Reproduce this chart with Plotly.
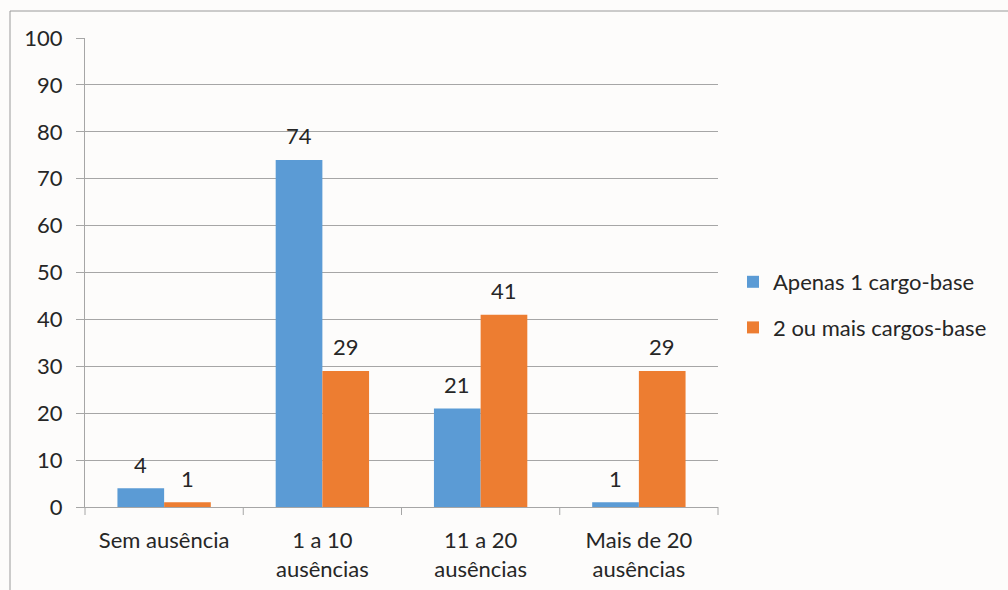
import plotly.graph_objects as go

categories = ["Sem ausência", "1 a 10 ausências", "11 a 20 ausências", "Mais de 20 ausências"]
tick_labels = ["Sem ausência", "1 a 10<br>ausências", "11 a 20<br>ausências", "Mais de 20<br>ausências"]
series_names = ["Apenas 1 cargo-base", "2 ou mais cargos-base"]
apenas_1 = [4, 74, 21, 1]
dois_ou_mais = [1, 29, 41, 29]
colors = ["#5B9BD5", "#ED7D31"]

FONT = "Lato, 'Open Sans', sans-serif"
FS = 22
TXT = "#262626"
L, R, T, B = 85, 290, 38, 83
W, H = 1008, 590
pw = W - L - R
ph = H - T - B

fig = go.Figure()
for i, (name, vals) in enumerate(zip(series_names, [apenas_1, dois_ou_mais])):
    fig.add_trace(go.Bar(
        x=categories, y=vals, name=name,
        marker=dict(color=colors[i], line=dict(width=0)),
        legendgroup=name,
    ))

# data labels
bar_w = pw / 4 * (1 - 0.41) / 2
for i, vals in enumerate([apenas_1, dois_ou_mais]):
    shift = (-0.5 if i == 0 else 0.5) * bar_w
    for c, v in zip(categories, vals):
        fig.add_annotation(x=c, y=v, text=str(v), showarrow=False,
                           xshift=shift, yshift=24, yanchor="middle",
                           font=dict(family=FONT, size=FS, color=TXT))

# chart border
fig.add_shape(type="rect", xref="paper", yref="paper",
              x0=(10 - L) / pw, x1=(1020 - L) / pw,
              y0=-(620 - (H - B)) / ph, y1=(H - B - 11) / ph,
              line=dict(color="#9a9a9a", width=1), fillcolor="rgba(0,0,0,0)", layer="below")

fig.update_layout(
    width=W, height=H,
    margin=dict(l=L, r=R, t=T, b=B, autoexpand=False),
    paper_bgcolor="#fdfcfb", plot_bgcolor="#fdfcfb",
    bargap=0.41, bargroupgap=0,
    barmode="group",
    font=dict(family=FONT, size=FS, color=TXT),
    showlegend=True,
    legend=dict(x=(733 - L) / pw, y=(507 - 305) / ph, xanchor="left", yanchor="middle",
                font=dict(family=FONT, size=FS, color=TXT),
                traceorder="grouped", tracegroupgap=14, itemwidth=30,
                bgcolor="rgba(0,0,0,0)"),
    xaxis=dict(
        tickmode="array", tickvals=categories, ticktext=tick_labels,
        showline=True, linecolor="#a6a6a6", linewidth=1,
        ticks="", showgrid=False, ticklabelstandoff=14,
        tickfont=dict(family=FONT, size=FS, color=TXT),
    ),
    yaxis=dict(
        range=[0, 100], dtick=10, tick0=0,
        showline=True, linecolor="#a6a6a6", linewidth=1,
        ticks="outside", ticklen=8, tickcolor="#a6a6a6",
        showgrid=True, gridcolor="#a6a6a6", gridwidth=1,
        zeroline=False, ticklabelstandoff=9,
        tickfont=dict(family=FONT, size=FS, color=TXT),
    ),
)

# category divider tick marks on x axis
for k in range(5):
    fig.add_shape(type="line", xref="paper", yref="paper",
                  x0=k / 4, x1=k / 4, y0=0, y1=-8 / ph,
                  line=dict(color="#a6a6a6", width=1))

fig.write_html("out.html")
